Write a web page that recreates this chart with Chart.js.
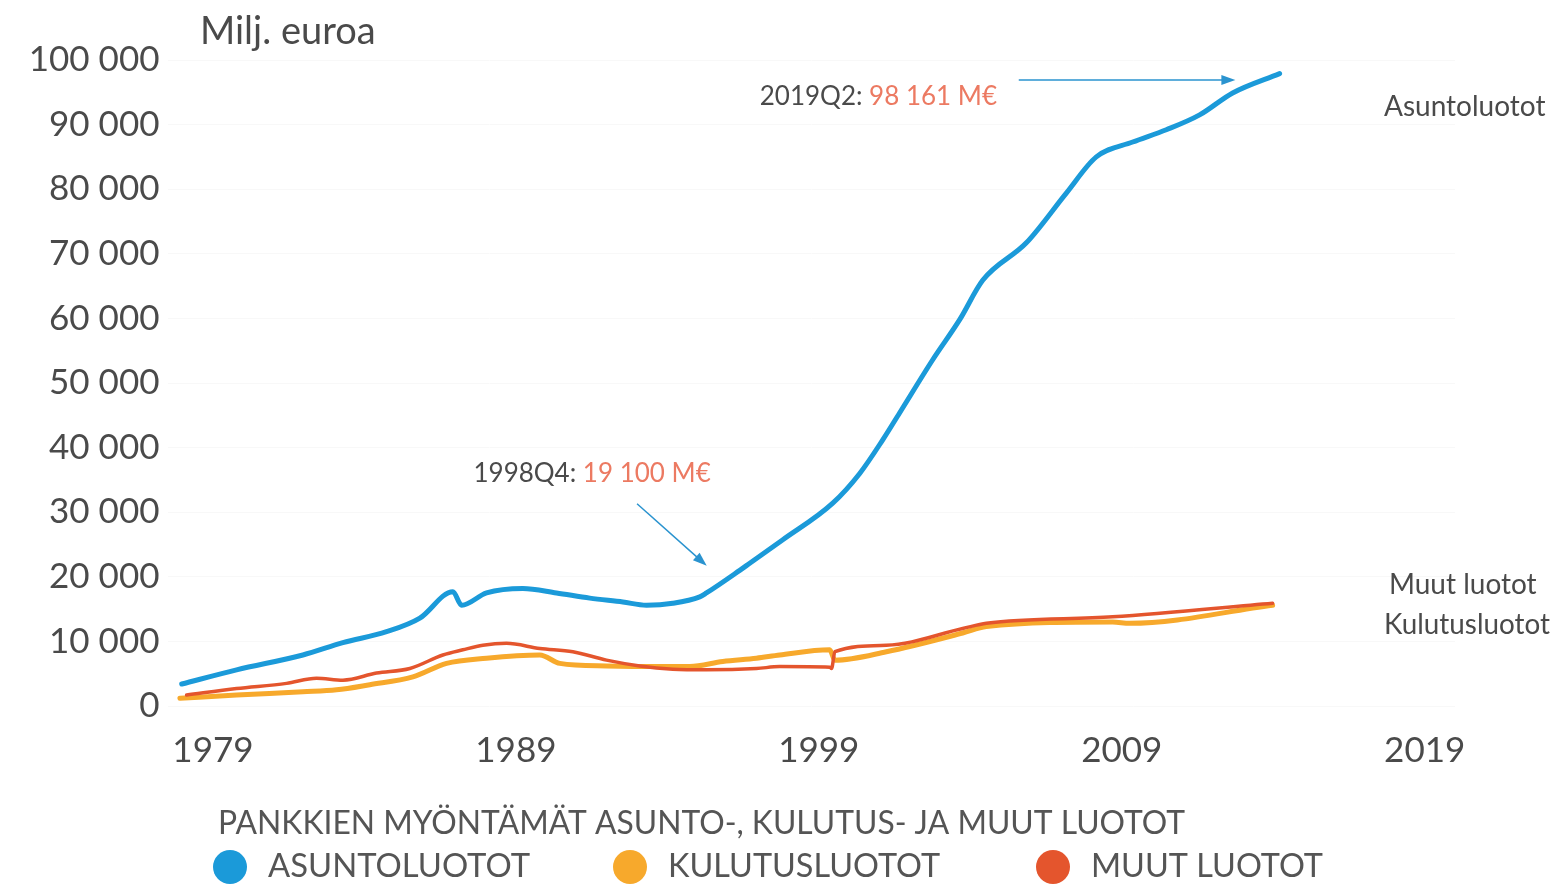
<!DOCTYPE html>
<html>
<head>
<meta charset="utf-8">
<script src="https://cdn.jsdelivr.net/npm/chart.js@4.4.1/dist/chart.umd.min.js"></script>
<style>
  html, body { margin: 0; padding: 0; background: #fff; }
  #wrap { width: 1557px; height: 884px; position: relative; }
</style>
</head>
<body>
<div id="wrap"><canvas id="loanChart"></canvas></div>
<script>
// Axis ticks (years as printed on the chart)
var xTickYears = [1979, 1989, 1999, 2009, 2019];

// Asuntoluotot (housing loans), M€
var asuntoX = [1977.97, 1979.78, 1981.97, 1983.29, 1984.73, 1985.83, 1986.92, 1987.21, 1988.03, 1989.23,
               1990.34, 1991.44, 1992.53, 1993.31, 1994.18, 1995.07, 1995.29, 1996.39, 1996.72, 1997.8,
               1999.46, 2000.35, 2001.11, 2001.67, 2002.76, 2003.65, 2004.41, 2005.85, 2007.17, 2008.16,
               2009.36, 2010.47, 2011.57, 2012.66, 2014.21];
var asuntoY = [3400, 5600, 7900, 9800, 11500, 13600, 17700, 15600, 17500, 18200,
               17500, 16700, 16100, 15600, 15900, 16900, 17500, 21000, 22100, 25700,
               31400, 36000, 41200, 45400, 53600, 59800, 65900, 71700, 79400, 85000,
               87300, 89200, 91500, 94900, 97900];

// Kulutusluotot (consumer loans), M€
var kulutusX = [1977.91, 1979.78, 1981.97, 1983.08, 1984.18, 1985.6, 1986.71, 1988.03, 1989.79, 1990.45,
                1991.99, 1993.64, 1994.74, 1995.83, 1996.94, 1997.71, 1999.36, 1999.53, 2001.23, 2003.75,
                2004.53, 2008.7, 2009.26, 2013.98];
var kulutusY = [1200, 1700, 2200, 2500, 3300, 4500, 6600, 7400, 7900, 6600,
                6200, 6100, 6100, 6900, 7400, 7900, 8700, 7100, 8400, 11300,
                12300, 13000, 12800, 15600];

// Muut luotot (other loans), M€
var muutX = [1978.13, 1979.78, 1981.43, 1982.42, 1983.29, 1984.4, 1985.5, 1986.59, 1987.25, 1987.91,
             1988.69, 1989.79, 1990.88, 1991.99, 1993.09, 1994.18, 1995.29, 1996.94, 1997.71, 1999.36,
             1999.42, 1999.53, 2001.23, 2003.75, 2004.53, 2008.7, 2013.98];
var muutY = [1700, 2700, 3500, 4300, 4000, 5100, 5800, 7900, 8700, 9400,
             9700, 8900, 8400, 7100, 6200, 5700, 5600, 5800, 6100, 6000,
             5800, 8400, 9400, 12000, 12800, 13800, 15900];

function toPoints(xs, ys) {
    var pts = [];
    for (var i = 0; i < xs.length; i++) {
        pts.push({ x: xs[i], y: ys[i] });
    }
    return pts;
}

function fmtThousands(v) {
    return String(v).replace(/\B(?=(\d{3})+(?!\d))/g, ' ');
}

var TEXT = '#4a4a4a';
var SALMON = '#ec7a62';
var ARROW = '#2a93cf';

// Draw an arrow between two pixel points
function arrow(ctx, x1, y1, x2, y2) {
    var ang = Math.atan2(y2 - y1, x2 - x1);
    ctx.strokeStyle = ARROW;
    ctx.fillStyle = ARROW;
    ctx.lineWidth = 1.5;
    ctx.beginPath();
    ctx.moveTo(x1, y1);
    ctx.lineTo(x2 - 10 * Math.cos(ang), y2 - 10 * Math.sin(ang));
    ctx.stroke();
    ctx.beginPath();
    ctx.moveTo(x2, y2);
    ctx.lineTo(x2 - 14 * Math.cos(ang) + 5 * Math.sin(ang), y2 - 14 * Math.sin(ang) - 5 * Math.cos(ang));
    ctx.lineTo(x2 - 14 * Math.cos(ang) - 5 * Math.sin(ang), y2 - 14 * Math.sin(ang) + 5 * Math.cos(ang));
    ctx.closePath();
    ctx.fill();
}

// Two-coloured annotation text
function note(ctx, x, y, label, value) {
    ctx.font = '26px Lato';
    ctx.textAlign = 'left';
    ctx.textBaseline = 'middle';
    ctx.fillStyle = TEXT;
    ctx.fillText(label, x, y);
    var w = ctx.measureText(label).width;
    ctx.fillStyle = SALMON;
    ctx.fillText(value, x + w, y);
}

var decorPlugin = {
    id: 'decor',
    afterDraw: function (chart) {
        var ctx = chart.ctx;
        var xs = chart.scales.x, ys = chart.scales.y;
        ctx.save();

        // unit title
        ctx.font = '38px Lato';
        ctx.fillStyle = TEXT;
        ctx.textBaseline = 'middle';
        ctx.textAlign = 'left';
        ctx.fillText('Milj. euroa', 200, 32);

        // annotations
        note(ctx, xs.getPixelForValue(1997.05), ys.getPixelForValue(94300), '2019Q2: ', '98 161 M€');
        arrow(ctx, xs.getPixelForValue(2005.6), ys.getPixelForValue(96900),
                   xs.getPixelForValue(2012.75), ys.getPixelForValue(96900));
        note(ctx, xs.getPixelForValue(1987.6), ys.getPixelForValue(36000), '1998Q4: ', '19 100 M€');
        arrow(ctx, xs.getPixelForValue(1993.0), ys.getPixelForValue(31300),
                   xs.getPixelForValue(1995.3), ys.getPixelForValue(21700));

        // series names on the right
        ctx.font = '28px Lato';
        ctx.fillStyle = TEXT;
        ctx.textAlign = 'left';
        ctx.fillText('Asuntoluotot', 1384, 107, 162);
        ctx.fillText('Muut luotot', 1389, 585, 148);
        ctx.fillText('Kulutusluotot', 1384, 625, 166);

        // bottom caption and legend
        ctx.font = '33px Lato';
        ctx.fillStyle = '#555';
        ctx.fillText('PANKKIEN MYÖNTÄMÄT ASUNTO-, KULUTUS- JA MUUT LUOTOT', 218, 823, 967);
        var legendX = [230, 630, 1053];
        var legendW = [262, 272, 232];
        chart.data.datasets.forEach(function (ds, i) {
            ctx.fillStyle = ds.borderColor;
            ctx.beginPath();
            ctx.arc(legendX[i], 867, 17, 0, Math.PI * 2);
            ctx.fill();
            ctx.fillStyle = '#555';
            ctx.font = '33px Lato';
            ctx.fillText(ds.label.toUpperCase(), legendX[i] + 38, 866, legendW[i]);
        });
        ctx.restore();
    }
};

var ctx = document.getElementById('loanChart').getContext('2d');
var loanChart = new Chart(ctx, {
    type: 'line',
    data: {
        datasets: [
            {
                label: 'Asuntoluotot',
                data: toPoints(asuntoX, asuntoY),
                borderColor: '#1b9ad9',
                borderWidth: 5,
                order: 3
            },
            {
                label: 'Kulutusluotot',
                data: toPoints(kulutusX, kulutusY),
                borderColor: '#f7a92c',
                borderWidth: 5,
                order: 2
            },
            {
                label: 'Muut luotot',
                data: toPoints(muutX, muutY),
                borderColor: '#e4552d',
                borderWidth: 3.5,
                order: 1
            }
        ]
    },
    options: {
        responsive: true,
        maintainAspectRatio: false,
        animation: false,
        elements: {
            point: { radius: 0 },
            line: { cubicInterpolationMode: 'monotone', fill: false, borderCapStyle: 'round', borderJoinStyle: 'round' }
        },
        layout: { padding: { left: 0, top: 60, right: 102, bottom: 108 } },
        scales: {
            x: {
                type: 'linear',
                min: 1977.5,
                max: 2020,
                border: { display: false },
                grid: { display: false, drawTicks: false },
                afterBuildTicks: function (scale) {
                    scale.ticks = xTickYears.map(function (v) { return { value: v }; });
                },
                afterFit: function (scale) { scale.height = 70; },
                ticks: {
                    padding: 24,
                    color: TEXT,
                    maxRotation: 0,
                    autoSkip: false,
                    font: { family: 'Lato', size: 35 },
                    callback: function (v) { return String(v); }
                }
            },
            y: {
                min: 0,
                max: 100000,
                border: { display: false },
                grid: { color: '#f8f8f8', drawTicks: false },
                afterFit: function (scale) { scale.width = 167.5; },
                ticks: {
                    stepSize: 10000,
                    padding: 8,
                    color: TEXT,
                    font: { family: 'Lato', size: 35 },
                    callback: function (v) { return fmtThousands(v); }
                }
            }
        },
        plugins: {
            legend: { display: false },
            tooltip: { enabled: false }
        }
    },
    plugins: [decorPlugin]
});
</script>
</body>
</html>
